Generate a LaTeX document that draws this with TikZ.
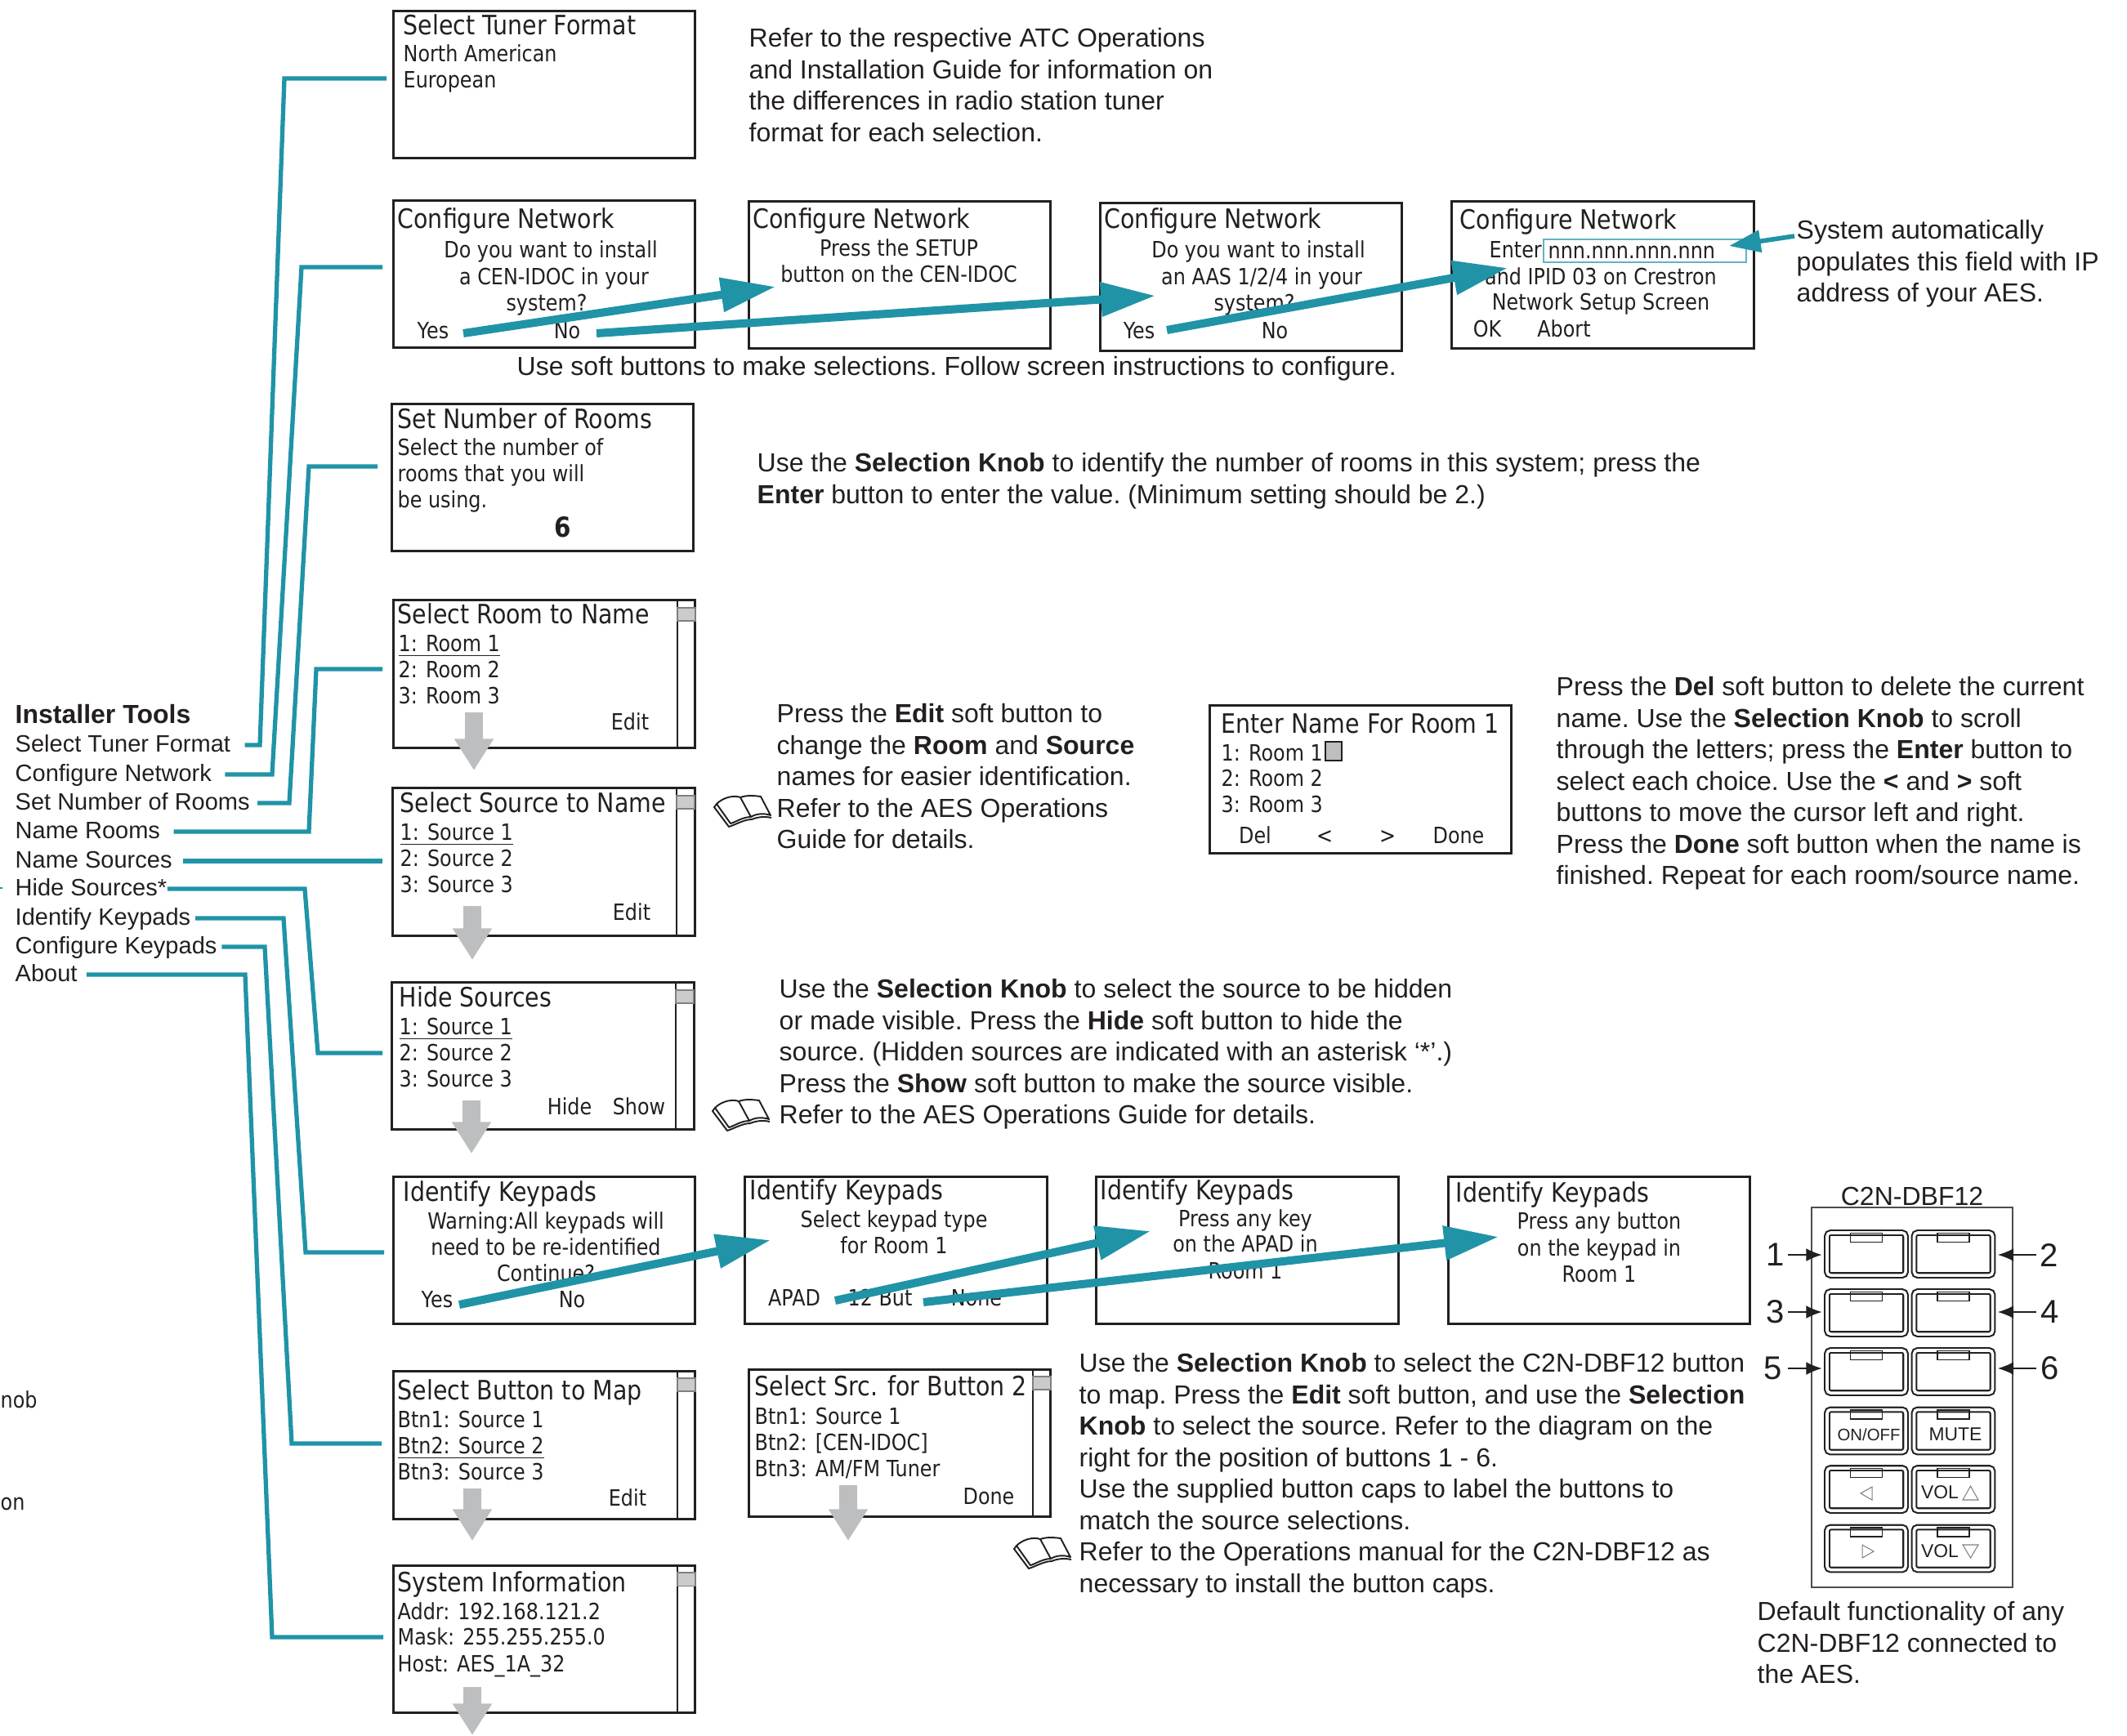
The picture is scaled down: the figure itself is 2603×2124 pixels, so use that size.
\documentclass[tikz,border=0pt]{standalone}
\usepackage{fontspec}
\usepackage{tikz}
\usetikzlibrary{arrows.meta}
\setmainfont{Liberation Sans}
\newfontfamily\lcdfont[FakeStretch=0.87]{DejaVu Sans}

\definecolor{tealline}{HTML}{2093A7}
\definecolor{boxline}{HTML}{231F20}
\definecolor{softgray}{HTML}{BCBEC0}

\tikzset{
  screen/.style={draw=boxline, line width=0.85pt, minimum width=3.69cm, minimum height=1.80cm, inner sep=0},
  lcdtitle/.style={anchor=west, inner sep=0, text height=7.6pt, text depth=1.4pt, text=boxline, font=\lcdfont\fontsize{9.3}{11}\selectfont},
  lcdleft/.style={anchor=west, inner sep=0, text height=6.8pt, text depth=1.1pt, text=boxline, font=\lcdfont\fontsize{7.8}{9}\selectfont},
  lcdmid/.style={lcdleft, anchor=center},
  bodytext/.style={anchor=north west, inner sep=0, align=left, text=boxline, font=\frenchspacing\fontsize{9.1}{10.95}\selectfont},
  listitem/.style={anchor=west, inner sep=0, text height=6.4pt, text depth=1.6pt, text=boxline, font=\fontsize{8.25}{10}\selectfont},
  leader/.style={draw=tealline, line width=1.5pt},
  flowarrow/.style={draw=tealline, line width=2.85pt, -{Triangle[width=11.4pt,length=19pt]}},
  smallarrow/.style={draw=tealline, line width=1.6pt, -{Triangle[width=7.5pt,length=11pt]}},
  nextarrow/.style={draw=softgray, line width=6pt, -{Triangle[width=13pt,length=11pt]}},
  numarrow/.style={draw=boxline, line width=0.45pt, shorten >=1.5pt, -{Latex[length=5.5pt,width=4.5pt]}},
  numlabel/.style={inner sep=0, text=boxline, font=\fontsize{11.4}{13}\selectfont},
  keycap/.style={draw=boxline, line width=0.6pt, double=white, double distance=1pt, rounded corners=1.2pt, minimum width=0.96cm, minimum height=0.52cm, inner sep=0},
  captab/.style={draw=boxline, line width=0.35pt, minimum width=0.39cm, minimum height=0.11cm, inner sep=0},
  capsymbol/.style={draw=gray, line width=0.3pt},
  thumb/.style={draw=gray, fill=softgray!80, line width=0.3pt},
  barline/.style={draw=boxline, line width=0.4pt},
  bookicon/.pic={
    \draw[boxline, line width=0.55pt, line join=round]
      (4,11) .. controls (12,3) and (25,0) .. (33,3) .. controls (42,0) and (50,1) .. (58,2) -- (70,25)
      .. controls (62,22) and (52,23) .. (46,27) -- (33,3)
      (46,27) .. controls (36,27) and (28,33) .. (21,35) -- (4,11) (4,11) -- (1,15) -- (19,39)
      .. controls (28,36) and (38,30) .. (47,30) .. controls (54,27) and (63,26) .. (71,28);
  }
}

\begin{document}
\begin{tikzpicture}[x=0.01cm,y=-0.01cm]
\useasboundingbox (0,0) rectangle (2603,2124);

% installer list
\node[listitem, font=\bfseries\fontsize{9.1}{10}\selectfont] (listHead) at (18,877) {Installer Tools};
\node[listitem] (itemTuner) at (18,912) {Select Tuner Format};
\node[listitem] (itemNet) at (18,948) {Configure Network};
\node[listitem] (itemRooms) at (18,983) {Set Number of Rooms};
\node[listitem] (itemNames) at (18,1018) {Name Rooms};
\node[listitem] (itemSources) at (18,1054) {Name Sources};
\node[listitem] (itemHide) at (18,1088) {Hide Sources*};
\node[listitem] (itemKeys) at (18,1124) {Identify Keypads};
\node[listitem] (itemConf) at (18,1159) {Configure Keypads};
\node[listitem] (itemAbout) at (18,1193) {About};
\node[lcdleft] (cutKnob) at (0,1713) {nob};
\node[lcdleft] (cutButton) at (0,1838) {on};

% screens
\node[screen] (tuner) at (666,103.5) {};
\node[lcdtitle] (tunerT) at (493,32) {Select Tuner Format};
\node[lcdleft] (tunerA) at (493,65) {North American};
\node[lcdleft] (tunerB) at (493,97) {European};

\node[screen] (netA) at (666,335.5) {};
\node[lcdtitle] (netAT) at (486,269) {Configure Network};
\node[lcdmid] (netA1) at (674,305) {Do you want to install};
\node[lcdmid] (netA2) at (678,338) {a CEN-IDOC in your};
\node[lcdmid] (netA3) at (669,370) {system?};
\node[lcdmid] (netAY) at (530,404) {Yes};
\node[lcdmid] (netAN) at (694,404) {No};

\node[screen] (netB) at (1101,336.5) {};
\node[lcdtitle] (netBT) at (921,269) {Configure Network};
\node[lcdmid] (netB1) at (1100,303) {Press the SETUP};
\node[lcdmid] (netB2) at (1100,335) {button on the CEN-IDOC};

\node[screen] (netC) at (1531,339) {};
\node[lcdtitle] (netCT) at (1351,269) {Configure Network};
\node[lcdmid] (netC1) at (1540,305) {Do you want to install};
\node[lcdmid] (netC2) at (1544,338) {an AAS 1/2/4 in your};
\node[lcdmid] (netC3) at (1535,370) {system?};
\node[lcdmid] (netCY) at (1394,404) {Yes};
\node[lcdmid] (netCN) at (1560,404) {No};

\node[screen] (netD) at (1961.5,336.5) {};
\node[lcdtitle] (netDT) at (1786,270) {Configure Network};
\node[lcdleft] (netD1) at (1822,305) {Enter};
\node[draw=tealline!70, line width=0.6pt, minimum width=2.48cm, minimum height=0.28cm, inner sep=0] (field) at (2013,307) {};
\node[lcdleft] (fieldT) at (1894,306) {nnn.nnn.nnn.nnn};
\node[lcdmid] (netD2) at (1959,338) {and IPID 03 on Crestron};
\node[lcdmid] (netD3) at (1959,369) {Network Setup Screen};
\node[lcdmid] (netDY) at (1820,402) {OK};
\node[lcdmid] (netDN) at (1914,402) {Abort};

\node[screen] (rooms) at (664,584.5) {};
\node[lcdtitle] (roomsT) at (486,514) {Set Number of Rooms};
\node[lcdleft] (rooms1) at (486,547) {Select the number of};
\node[lcdleft] (rooms2) at (486,579) {rooms that you will};
\node[lcdleft] (rooms3) at (486,611) {be using.};
\node[lcdmid, font=\lcdfont\bfseries\fontsize{9.6}{11}\selectfont] (rooms4) at (689,647) {6};

\node[screen] (nameRoom) at (666,825) {};
\node[lcdtitle] (nameRoomT) at (486,753) {Select Room to Name};
\node[lcdleft] (nameRoom1) at (487,787) {\underline{1: Room 1}};
\node[lcdleft] (nameRoom2) at (487,819) {2: Room 2};
\node[lcdleft] (nameRoom3) at (487,851) {3: Room 3};
\node[lcdmid] (nameRoomE) at (771,883) {Edit};

\node[screen] (nameSrc) at (665.5,1055) {};
\node[lcdtitle] (nameSrcT) at (489,984) {Select Source to Name};
\node[lcdleft] (nameSrc1) at (489,1018) {\underline{1: Source 1}};
\node[lcdleft] (nameSrc2) at (489,1050) {2: Source 2};
\node[lcdleft] (nameSrc3) at (489,1082) {3: Source 3};
\node[lcdmid] (nameSrcE) at (773,1116) {Edit};

\node[screen] (hide) at (664.5,1292.5) {};
\node[lcdtitle] (hideT) at (488,1222) {Hide Sources};
\node[lcdleft] (hide1) at (488,1256) {\underline{1: Source 1}};
\node[lcdleft] (hide2) at (488,1288) {2: Source 2};
\node[lcdleft] (hide3) at (488,1320) {3: Source 3};
\node[lcdmid] (hideH) at (697,1354) {Hide};
\node[lcdmid] (hideS) at (782,1354) {Show};

\node[screen] (enter) at (1665,954) {};
\node[lcdtitle] (enterT) at (1494,887) {Enter Name For Room 1};
\node[lcdleft] (enter1) at (1494,921) {1: Room 1};
\node[draw=boxline, fill=softgray, line width=0.6pt, minimum width=0.2cm, minimum height=0.23cm, inner sep=0] (cursor) at (1632,919.5) {};
\node[lcdleft] (enter2) at (1494,952) {2: Room 2};
\node[lcdleft] (enter3) at (1494,984) {3: Room 3};
\node[lcdmid] (enterD) at (1536,1022) {Del};
\node[lcdmid] (enterL) at (1621,1022) {<};
\node[lcdmid] (enterR) at (1698,1022) {>};
\node[lcdmid] (enterF) at (1785,1022) {Done};

\node[screen] (idA) at (666,1530.5) {};
\node[lcdtitle] (idAT) at (493,1460) {Identify Keypads};
\node[lcdmid] (idA1) at (668,1494) {Warning:All keypads will};
\node[lcdmid] (idA2) at (668,1526) {need to be re-identified};
\node[lcdmid] (idA3) at (668,1558) {Continue?};
\node[lcdmid] (idAY) at (535,1590) {Yes};
\node[lcdmid] (idAN) at (700,1590) {No};

\node[screen] (idB) at (1096.5,1530.5) {};
\node[lcdtitle] (idBT) at (917,1458) {Identify Keypads};
\node[lcdmid] (idB1) at (1094,1492) {Select keypad type};
\node[lcdmid] (idB2) at (1094,1524) {for Room 1};
\node[lcdmid] (idBA) at (972,1588) {APAD};
\node[lcdmid] (idBB) at (1077,1588) {12 But};
\node[lcdmid] (idBN) at (1195,1588) {None};

\node[screen] (idC) at (1526.5,1530.5) {};
\node[lcdtitle] (idCT) at (1346,1458) {Identify Keypads};
\node[lcdmid] (idC1) at (1524,1491) {Press any key};
\node[lcdmid] (idC2) at (1524,1522) {on the APAD in};
\node[lcdmid] (idC3) at (1524,1555) {Room 1};

\node[screen] (idD) at (1957,1530.5) {};
\node[lcdtitle] (idDT) at (1781,1461) {Identify Keypads};
\node[lcdmid] (idD1) at (1957,1494) {Press any button};
\node[lcdmid] (idD2) at (1957,1527) {on the keypad in};
\node[lcdmid] (idD3) at (1957,1559) {Room 1};

\node[screen] (btn) at (666,1769) {};
\node[lcdtitle] (btnT) at (486,1703) {Select Button to Map};
\node[lcdleft] (btn1) at (486,1737) {Btn1: Source 1};
\node[lcdleft] (btn2) at (486,1769) {\underline{Btn2: Source 2}};
\node[lcdleft] (btn3) at (486,1801) {Btn3: Source 3};
\node[lcdmid] (btnE) at (768,1833) {Edit};

\node[screen] (src) at (1101,1766.5) {};
\node[lcdtitle] (srcT) at (923,1698) {Select Src. for Button 2};
\node[lcdleft] (src1) at (923,1733) {Btn1: Source 1};
\node[lcdleft] (src2) at (923,1765) {Btn2: [CEN-IDOC]};
\node[lcdleft] (src3) at (923,1797) {Btn3: AM/FM Tuner};
\node[lcdmid] (srcD) at (1210,1831) {Done};

\node[screen] (sys) at (666,2006.5) {};
\node[lcdtitle] (sysT) at (486,1938) {System Information};
\node[lcdleft] (sys1) at (486,1972) {Addr: 192.168.121.2};
\node[lcdleft] (sys2) at (486,2003) {Mask: 255.255.255.0};
\node[lcdleft] (sys3) at (486,2036) {Host: AES\_1A\_32};

% scroll bars
\draw[barline] (829,734) -- (829,916);
\draw[thumb] (829,744) rectangle (851,760);
\draw[barline] (828,964) -- (828,1146);
\draw[thumb] (828,974) rectangle (850,990);
\draw[barline] (827,1202) -- (827,1383);
\draw[thumb] (827,1212) rectangle (849,1228);
\draw[barline] (829,1677) -- (829,1861);
\draw[thumb] (829,1687) rectangle (851,1703);
\draw[barline] (1264,1675) -- (1264,1858);
\draw[thumb] (1264,1685) rectangle (1286,1701);
\draw[barline] (829,1915) -- (829,2098);
\draw[thumb] (829,1925) rectangle (851,1941);

% notes
\node[bodytext] (noteFormat) at (916,34) {Refer to the respective ATC Operations\\and Installation Guide for information on\\the differences in radio station tuner\\format for each selection.};
\node[bodytext] (noteSoft) at (632,436) {Use soft buttons to make selections. Follow screen instructions to configure.};
\node[bodytext] (noteAuto) at (2198,269) {System automatically\\populates this field with IP\\address of your AES.};
\node[bodytext] (noteRooms) at (926,554) {Use the \textbf{Selection Knob} to identify the number of rooms in this system; press the\\\textbf{Enter} button to enter the value. (Minimum setting should be 2.)};
\node[bodytext] (noteEdit) at (950,861) {Press the \textbf{Edit} soft button to\\change the \textbf{Room} and \textbf{Source}\\names for easier identification.\\Refer to the AES Operations\\Guide for details.};
\node[bodytext] (noteDel) at (1904,828) {Press the \textbf{Del} soft button to delete the current\\name. Use the \textbf{Selection Knob} to scroll\\through the letters; press the \textbf{Enter} button to\\select each choice. Use the \textbf{<} and \textbf{>} soft\\buttons to move the cursor left and right.\\Press the \textbf{Done} soft button when the name is\\finished. Repeat for each room/source name.};
\node[bodytext] (noteHide) at (953,1198) {Use the \textbf{Selection Knob} to select the source to be hidden\\or made visible. Press the \textbf{Hide} soft button to hide the\\source. (Hidden sources are indicated with an asterisk ‘*’.)\\Press the \textbf{Show} soft button to make the source visible.\\Refer to the AES Operations Guide for details.};
\node[bodytext] (noteMap) at (1320,1656) {Use the \textbf{Selection Knob} to select the C2N-DBF12 button\\to map. Press the \textbf{Edit} soft button, and use the \textbf{Selection}\\\textbf{Knob} to select the source. Refer to the diagram on the\\right for the position of buttons 1 - 6.\\Use the supplied button caps to label the buttons to\\match the source selections.\\Refer to the Operations manual for the C2N-DBF12 as\\necessary to install the button caps.};
\node[bodytext] (noteDefault) at (2150,1960) {Default functionality of any\\C2N-DBF12 connected to\\the AES.};

% book icons
\pic at (873,973) {bookicon};
\pic at (871,1345) {bookicon};
\pic at (1240,1881) {bookicon};

% keypad
\node[draw=boxline!80, line width=0.6pt, minimum width=2.46cm, minimum height=4.65cm, inner sep=0] (panel) at (2340,1710.5) {};
\node[inner sep=0, text=boxline, font=\fontsize{9.1}{11}\selectfont] (panelT) at (2340,1464) {C2N-DBF12};
\foreach \r/\cy in {1/1535,2/1607,3/1679,4/1751.5,5/1823,6/1895.5} {
  \node[keycap] (capL\r) at (2284,\cy) {};
  \node[keycap] (capR\r) at (2390.5,\cy) {};
  \node[captab] (tabL\r) at ({2284},{\cy-20}) {};
  \node[captab] (tabR\r) at ({2390.5},{\cy-20}) {};
}
\node[inner sep=0, text=boxline, font=\fontsize{5.8}{7}\selectfont] (capOn) at (2287,1756) {ON/OFF};
\node[inner sep=0, text=boxline, font=\fontsize{6.5}{8}\selectfont] (capMute) at (2393,1756) {MUTE};
\node[inner sep=0, text=boxline, font=\fontsize{6.5}{8}\selectfont] (capVolUp) at (2374,1827) {VOL};
\node[inner sep=0, text=boxline, font=\fontsize{6.5}{8}\selectfont] (capVolDn) at (2374,1899) {VOL};
\draw[capsymbol] (2291,1820) -- (2277,1828) -- (2291,1836) -- cycle;
\draw[capsymbol] (2279,1891) -- (2293,1899) -- (2279,1907) -- cycle;
\draw[capsymbol] (2402,1836) -- (2411.5,1819) -- (2421,1836) -- cycle;
\draw[capsymbol] (2402,1891) -- (2411.5,1907) -- (2421,1891) -- cycle;

\node[numlabel] (numA) at (2173,1536) {1};
\node[numlabel] (numB) at (2508,1536) {2};
\node[numlabel] (numC) at (2173,1606) {3};
\node[numlabel] (numD) at (2509,1606) {4};
\node[numlabel] (numE) at (2170,1675) {5};
\node[numlabel] (numF) at (2509,1675) {6};

% arrows
\coordinate (tunerIn) at (473,96);
\coordinate (netIn) at (468,327);
\coordinate (roomsIn) at (462,571);
\coordinate (namesIn) at (468,819);
\coordinate (sourcesIn) at (468,1054);
\coordinate (hideIn) at (468,1289);
\coordinate (keysIn) at (470,1533);
\coordinate (confIn) at (467,1767);
\coordinate (aboutIn) at (469,2004);

\draw[leader, shorten <=4.8pt] (itemTuner.east) -- (318,912) -- (348,96) -- (tunerIn);
\draw[leader, shorten <=4.5pt] (itemNet.east) -- (333,948) -- (369,327) -- (netIn);
\draw[leader, shorten <=2.5pt] (itemRooms.east) -- (354,983) -- (378,571) -- (roomsIn);
\draw[leader, shorten <=4.5pt] (itemNames.east) -- (378,1018) -- (387,819) -- (namesIn);
\draw[leader, shorten <=3.5pt] (itemSources.east) -- (sourcesIn);
\draw[leader] (itemHide.east) -- (373,1088) -- (389,1289) -- (hideIn);
\draw[leader, shorten <=1.5pt] (itemKeys.east) -- (347,1124) -- (374,1533) -- (keysIn);
\draw[leader, shorten <=1.5pt] (itemConf.east) -- (324,1159) -- (357,1767) -- (confIn);
\draw[leader, shorten <=3pt] (itemAbout.east) -- (300,1193) -- (333,2004) -- (aboutIn);
\draw[leader, line width=0.3pt] (0,1087) -- (3,1087);

\coordinate (netYesOut) at (567,408);
\coordinate (netYesIn) at (949,351);
\coordinate (netNoOut) at (730,408);
\coordinate (netNoIn) at (1414,362);
\coordinate (aasYesOut) at (1428,404);
\coordinate (aasYesIn) at (1845,328);
\coordinate (noteAutoOut) at (2196,289);
\coordinate (noteAutoIn) at (2116,301);
\coordinate (idYesOut) at (562,1597);
\coordinate (idYesIn) at (943,1518);
\coordinate (apadOut) at (1022,1592);
\coordinate (apadIn) at (1408,1507);
\coordinate (twelveOut) at (1130,1594);
\coordinate (twelveIn) at (1834,1514);

\draw[flowarrow] (netYesOut) -- (netYesIn);
\draw[flowarrow] (netNoOut) -- (netNoIn);
\draw[flowarrow] (aasYesOut) -- (aasYesIn);
\draw[smallarrow] (noteAutoOut) -- (noteAutoIn);
\draw[flowarrow] (idYesOut) -- (idYesIn);
\draw[flowarrow] (apadOut) -- (apadIn);
\draw[flowarrow] (twelveOut) -- (twelveIn);

\coordinate (nameRoomNext) at (580,872);
\coordinate (nameSrcTop) at (580,943);
\coordinate (nameSrcNext) at (578,1109);
\coordinate (hideTop) at (578,1175);
\coordinate (hideNext) at (577,1347);
\coordinate (idTop) at (577,1412);
\coordinate (btnNext) at (578,1822);
\coordinate (sysTop) at (578,1886);
\coordinate (srcNext) at (1038,1818);
\coordinate (srcEnd) at (1038,1886);
\coordinate (sysNext) at (578,2065);
\coordinate (sysEnd) at (578,2124);

\draw[nextarrow] (nameRoomNext) -- (nameSrcTop);
\draw[nextarrow] (nameSrcNext) -- (hideTop);
\draw[nextarrow] (hideNext) -- (idTop);
\draw[nextarrow] (btnNext) -- (sysTop);
\draw[nextarrow] (srcNext) -- (srcEnd);
\draw[nextarrow] (sysNext) -- (sysEnd);

\draw[numarrow] (numA) ++(15,0) -- (capL1.west |- numA);
\draw[numarrow] (numC) ++(15,0) -- (capL2.west |- numC);
\draw[numarrow] (numE) ++(18,0) -- (capL3.west |- numE);
\draw[numarrow] (numB) ++(-16,0) -- (capR1.east |- numB);
\draw[numarrow] (numD) ++(-17,0) -- (capR2.east |- numD);
\draw[numarrow] (numF) ++(-17,0) -- (capR3.east |- numF);
\end{tikzpicture}
\end{document}
